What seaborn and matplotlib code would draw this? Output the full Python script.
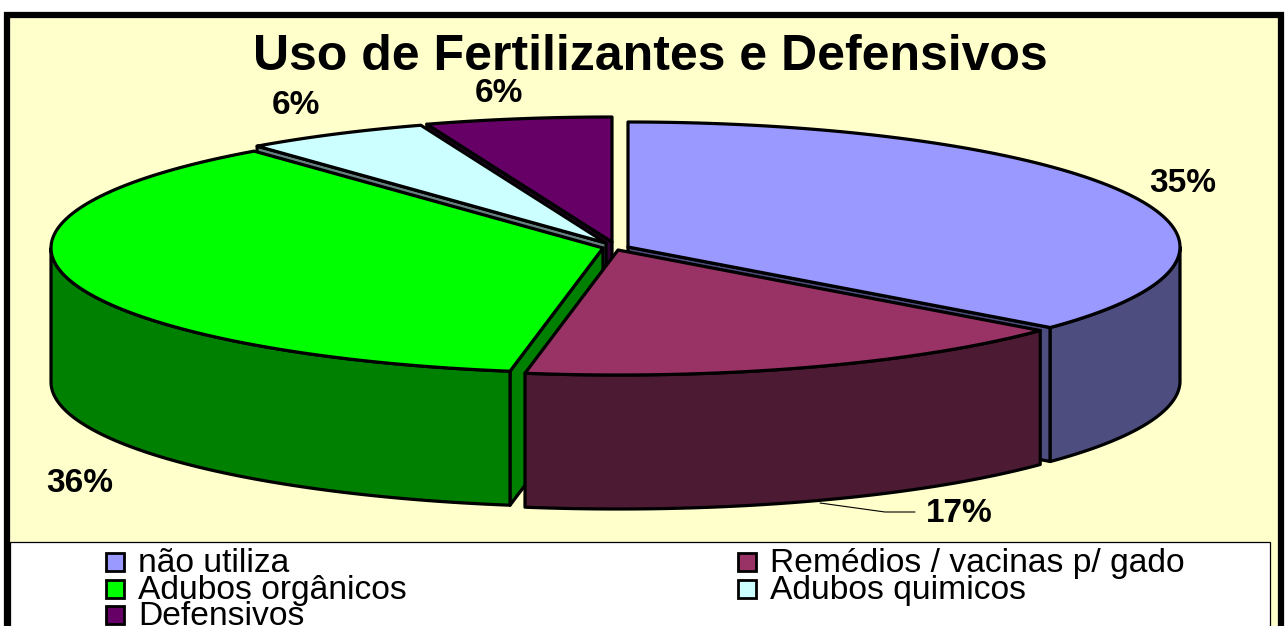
import numpy as np
import seaborn as sns
import matplotlib.pyplot as plt
from matplotlib.patches import Rectangle

# Data
categories = ["não utiliza", "Remédios / vacinas p/ gado", "Adubos orgânicos", "Adubos quimicos", "Defensivos"]
values = [35, 17, 36, 6, 6]
labels = ["35%", "17%", "36%", "6%", "6%"]
top_colors = ["#9999FF", "#993366", "#00FF00", "#CCFFFF", "#660066"]
side_colors = ["#4D4D80", "#4D1A33", "#008000", "#668080", "#330033"]

# pie geometry, in pixels of the 1288x626 picture
centers = [(628, 247), (618, 250), (603, 248), (606, 243), (612, 242)]
RX, RY, DEPTH = 552, 125, 134
# the perspective pushes the inner slice edges round a little
edge_turn = [4.1, 2.5, 4.0, 2.0]
LW = 2.3


def rim(center, deg):
    t = np.radians(deg)
    return center[0] + RX * np.sin(t), center[1] - RY * np.cos(t)


def draw_wall(ax, i, deg):
    c = centers[i]
    x, y = rim(c, deg)
    ax.fill([c[0], x, x, c[0]], [c[1], y, y + DEPTH, c[1] + DEPTH],
            facecolor=side_colors[i], edgecolor="black", lw=LW, joinstyle="round")


def draw_slice(ax, i, start, end):
    c = centers[i]
    xs, ys = rim(c, np.linspace(start, end, 120))

    # inner walls, only those that face the viewer
    if 180 < start < 360:
        draw_wall(ax, i, start)
    if 0 < end < 180:
        draw_wall(ax, i, end)

    # outer wall, only the front half of the rim shows
    lo, hi = max(start, 90), min(end, 270)
    if lo < hi:
        wx, wy = rim(c, np.linspace(lo, hi, 80))
        ax.fill(np.r_[wx, wx[::-1]], np.r_[wy, wy[::-1] + DEPTH],
                facecolor=side_colors[i], edgecolor="black", lw=LW, joinstyle="round")

    # top face
    ax.fill(np.r_[c[0], xs], np.r_[c[1], ys],
            facecolor=top_colors[i], edgecolor="black", lw=LW, joinstyle="round")


sns.set_theme(style="white")
plt.rcParams['font.family'] = ['Liberation Sans', 'DejaVu Sans']

fig = plt.figure(figsize=(12.88, 6.26), dpi=100)
ax = fig.add_axes([0, 0, 1, 1])
ax.set_xlim(0, 1288)
ax.set_ylim(626, 0)
ax.axis("off")

# frame and legend box
ax.add_patch(Rectangle((7, 15), 1274, 640, facecolor="#FFFFCC", edgecolor="black", lw=4.5))
ax.add_patch(Rectangle((10, 542), 1260, 100, facecolor="white", edgecolor="black", lw=0.9))

ax.text(650, 70, "Uso de Fertilizantes e Defensivos", fontsize=36, fontweight="bold",
        color="black", ha="center", va="baseline")

# slice edges
cum = np.cumsum(values) / np.sum(values) * 360
edges = np.r_[0, cum[:-1] + edge_turn, 360]

for i in [0, 4, 3, 2, 1]:
    draw_slice(ax, i, edges[i], edges[i + 1])

# value labels
label_pos = [(1183, 183), (959, 514), (80, 484), (296, 106), (499, 93)]
for text, (x, y) in zip(labels, label_pos):
    ax.text(x, y, text, fontsize=24, fontweight="bold", color="black", ha="center", va="center")
ax.plot([820, 885, 915], [503, 512, 512], color="black", lw=0.8)

# legend
legend_pos = [(105, 562), (737, 562), (105, 589), (737, 589), (105, 615)]
for name, color, (x, y) in zip(categories, top_colors, legend_pos):
    ax.add_patch(Rectangle((x + 1, y - 9), 18, 18, facecolor=color, edgecolor="black", lw=2))
    ax.text(x + 33, y + 10, name, fontsize=24.2, color="black", ha="left", va="baseline")

fig.savefig("out.png", dpi=100)
